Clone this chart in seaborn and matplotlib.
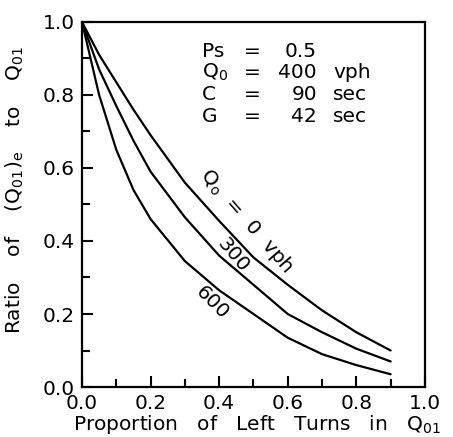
import numpy as np
import pandas as pd
import matplotlib
matplotlib.use('Agg')
import matplotlib.pyplot as plt
import seaborn as sns

# 数据: 左转比例 与 (Q01)e/Q01 比值
left_turn = [0.0, 0.05, 0.1, 0.15, 0.2, 0.3, 0.4, 0.5, 0.6, 0.7, 0.8, 0.9]
ratio_q0_0 = [1.0, 0.91, 0.835, 0.76, 0.69, 0.56, 0.455, 0.355, 0.28, 0.21, 0.15, 0.10]
ratio_q0_300 = [1.0, 0.87, 0.77, 0.675, 0.59, 0.465, 0.36, 0.28, 0.20, 0.15, 0.105, 0.07]
ratio_q0_600 = [1.0, 0.80, 0.65, 0.54, 0.46, 0.345, 0.265, 0.20, 0.135, 0.09, 0.06, 0.035]
opposing_flow = ['0', '300', '600']

x_ticks = [0.0, 0.2, 0.4, 0.6, 0.8, 1.0]
y_ticks = [0.0, 0.2, 0.4, 0.6, 0.8, 1.0]

params_names = ['Ps', 'Q$_0$', 'C', 'G']
params_values = ['0.5', '400', '90', '42']
params_units = ['', 'vph', 'sec', 'sec']

df = pd.DataFrame({
    'x': left_turn * 3,
    'ratio': ratio_q0_0 + ratio_q0_300 + ratio_q0_600,
    'Qo': np.repeat(opposing_flow, len(left_turn)),
})

sns.set_style('ticks')
plt.rcParams['font.family'] = ['DejaVu Sans']
plt.rcParams['mathtext.fontset'] = 'dejavusans'
for key in ['text.color', 'axes.labelcolor', 'xtick.color', 'ytick.color', 'axes.edgecolor']:
    plt.rcParams[key] = 'black'

fs = 14.5

fig = plt.figure(figsize=(4.53, 4.37), dpi=100)
ax = fig.add_axes([0.181, 0.1144, 0.757, 0.8353])

sns.lineplot(data=df, x='x', y='ratio', hue='Qo', palette=['black'] * 3,
             linewidth=1.6, legend=False, ax=ax)

ax.set_xlim(0, 1)
ax.set_ylim(0, 1)
ax.set_xticks(x_ticks)
ax.set_yticks(y_ticks)
ax.set_xticklabels([f'{v:.1f}' for v in x_ticks])
ax.set_yticklabels([f'{v:.1f}' for v in y_ticks])
ax.set_xticks(np.arange(0.1, 1.0, 0.2), minor=True)
ax.set_yticks(np.arange(0.1, 1.0, 0.2), minor=True)
ax.tick_params(which='major', direction='in', length=8, width=1.5,
               labelsize=fs, pad=5, top=False, right=False)
ax.tick_params(which='minor', direction='in', length=6, width=1.5,
               top=False, right=False)
for s in ax.spines.values():
    s.set_linewidth(1.6)
    s.set_visible(True)

ax.set_xlabel('Proportion   of   Left   Turns   in   Q$_{01}$', fontsize=fs)
ax.set_ylabel('Ratio    of    (Q$_{01}$)$_\\mathrm{e}$    to    Q$_{01}$', fontsize=fs)
ax.xaxis.set_label_coords(0.51, -0.072)
ax.yaxis.set_label_coords(-0.163, 0.54)

# 参数说明
base_y = [0.904, 0.847, 0.786, 0.726]
for name, val, unit, yy in zip(params_names, params_values, params_units, base_y):
    ax.text(0.35, yy, name, fontsize=fs, va='baseline', ha='left')
    ax.text(0.496, yy, '=', fontsize=fs, va='baseline', ha='center')
    ax.text(0.685, yy, val, fontsize=fs, va='baseline', ha='right')
    ax.text(0.732, yy, unit, fontsize=fs, va='baseline', ha='left')

# 曲线标注
ax.text(0.481, 0.455, 'Q$_\\mathrm{o}$  =  0  vph', fontsize=fs, rotation=-49,
        rotation_mode='anchor', ha='center', va='center')
ax.text(0.440, 0.362, '300', fontsize=fs, rotation=-50,
        rotation_mode='anchor', ha='center', va='center')
ax.text(0.379, 0.230, '600', fontsize=fs, rotation=-45,
        rotation_mode='anchor', ha='center', va='center')

fig.savefig('out.png', dpi=100)
